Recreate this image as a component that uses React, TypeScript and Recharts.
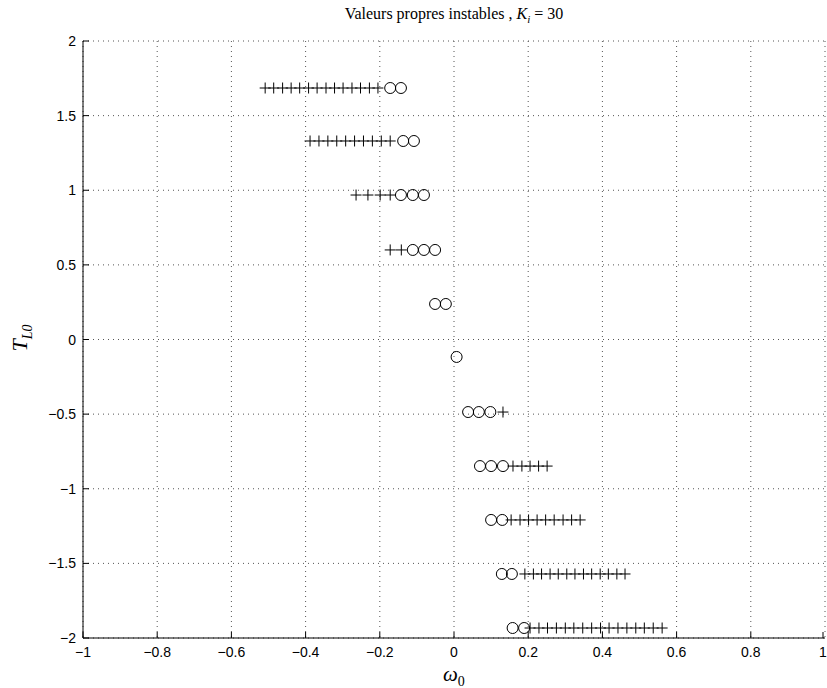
import React from 'react';
import { ScatterChart, Scatter, XAxis, YAxis, CartesianGrid } from 'recharts';

document.body.style.margin = '0';

// T_L0 levels, one per row (top to bottom)
const levels = [1.685, 1.33, 0.968, 0.6, 0.238, -0.117, -0.486, -0.848, -1.209, -1.571, -1.933];

// omega_0 of the circles on each row
const circleRows: number[][] = [
  [-0.172, -0.143],
  [-0.137, -0.108],
  [-0.143, -0.111, -0.081],
  [-0.111, -0.081, -0.051],
  [-0.051, -0.022],
  [0.007],
  [0.038, 0.067, 0.098],
  [0.07, 0.1, 0.132],
  [0.1, 0.13],
  [0.129, 0.156],
  [0.158, 0.189],
];

// omega_0 of the plus markers on each row
const plusRows: number[][] = [
  [-0.509, -0.486, -0.462, -0.439, -0.416, -0.392, -0.369, -0.345, -0.322, -0.299, -0.275, -0.252, -0.228, -0.205],
  [-0.388, -0.364, -0.34, -0.316, -0.292, -0.268, -0.244, -0.22, -0.196, -0.172],
  [-0.264, -0.232, -0.199, -0.172],
  [-0.172, -0.142],
  [],
  [],
  [0.132],
  [0.159, 0.183, 0.205, 0.228, 0.251],
  [0.154, 0.178, 0.201, 0.224, 0.247, 0.27, 0.294, 0.317, 0.34],
  [0.191, 0.214, 0.236, 0.259, 0.281, 0.304, 0.326, 0.349, 0.371, 0.394, 0.416, 0.439, 0.461],
  [0.205, 0.229, 0.252, 0.276, 0.3, 0.323, 0.347, 0.371, 0.395, 0.418, 0.442, 0.466, 0.49, 0.513, 0.537, 0.561],
];

const xTicks = [-1, -0.8, -0.6, -0.4, -0.2, 0, 0.2, 0.4, 0.6, 0.8, 1];
const yTicks = [-2, -1.5, -1, -0.5, 0, 0.5, 1, 1.5, 2];

const circleData = circleRows.flatMap((row, i) => row.map(x => ({ x, y: levels[i] })));
const plusData = plusRows.flatMap((row, i) => row.map(x => ({ x, y: levels[i] })));

const tickFont = { fontFamily: '"Liberation Sans", Arial, sans-serif', fontSize: 14 };
const serif = '"Liberation Serif", "DejaVu Serif", serif';

const CircleMark = (p: any) => (
  <circle cx={p.cx} cy={p.cy} r={5.5} fill="none" stroke="#000" strokeWidth={1} />
);

const PlusMark = (p: any) => (
  <g stroke="#000" strokeWidth={1}>
    <line x1={p.cx - 5.5} y1={p.cy} x2={p.cx + 5.5} y2={p.cy} />
    <line x1={p.cx} y1={p.cy - 5.5} x2={p.cx} y2={p.cy + 5.5} />
  </g>
);

const fmt = (v: number) => String(v).replace('-', '\u2212');

const XTick = (p: any) => (
  <g>
    <line x1={p.x} y1={p.y} x2={p.x} y2={p.y - 6} stroke="#000" />
    <text x={p.x} y={p.y + 19} textAnchor="middle" fill="#000" style={tickFont}>
      {fmt(p.payload.value)}
    </text>
  </g>
);

const YTick = (p: any) => (
  <g>
    <line x1={p.x} y1={p.y} x2={p.x + 6} y2={p.y} stroke="#000" />
    <text x={p.x - 7} y={p.y + 5} textAnchor="end" fill="#000" style={tickFont}>
      {fmt(p.payload.value)}
    </text>
  </g>
);

export default function App() {
  return (
    <div style={{ position: 'relative', width: 827, height: 688, background: '#fff' }}>
      <ScatterChart width={827} height={688} margin={{ top: 41, right: 2, bottom: 0, left: 0 }}>
        <CartesianGrid stroke="#555" strokeDasharray="1 4" />
        <XAxis
          type="number" dataKey="x" domain={[-1, 1]} ticks={xTicks}
          height={50} tickSize={0} tickMargin={0} tickLine={false}
          axisLine={{ stroke: '#000' }} tick={<XTick />} allowDataOverflow
        />
        <YAxis
          type="number" dataKey="y" domain={[-2, 2]} ticks={yTicks}
          width={83} tickSize={0} tickMargin={0} tickLine={false}
          axisLine={{ stroke: '#000' }} tick={<YTick />} allowDataOverflow
        />
        <Scatter data={plusData} shape={PlusMark} isAnimationActive={false} />
        <Scatter data={circleData} shape={CircleMark} isAnimationActive={false} />
      </ScatterChart>
      <div style={{
        position: 'absolute', left: 0, width: 908, top: 6, textAlign: 'center', lineHeight: 1,
        fontFamily: serif, fontSize: 16, color: '#000',
      }}>
        Valeurs propres instables , <i>K</i><sub style={{ fontSize: 11, fontStyle: 'italic', lineHeight: 1 }}>i</sub> = 30
      </div>
      <div style={{
        position: 'absolute', left: 443, top: 664, lineHeight: 1,
        fontFamily: serif, fontSize: 21, color: '#000',
      }}>
        <i>ω</i><sub style={{ fontSize: 14, lineHeight: 1 }}>0</sub>
      </div>
      <div style={{
        position: 'absolute', left: 22, top: 338, transform: 'translate(-50%, -50%) rotate(-90deg)',
        fontFamily: serif, fontSize: 22, color: '#000', whiteSpace: 'nowrap', lineHeight: 1,
      }}>
        <i>T</i><sub style={{ fontSize: 14, fontStyle: 'italic', lineHeight: 1 }}>L0</sub>
      </div>
    </div>
  );
}
